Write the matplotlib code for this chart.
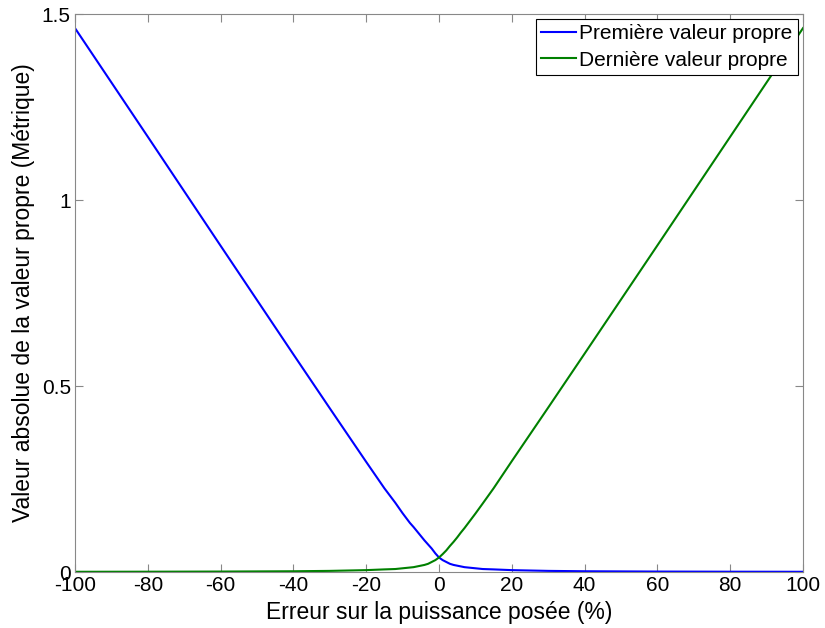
import numpy as np
import matplotlib
matplotlib.use('Agg')
import matplotlib.pyplot as plt

plt.rcParams['font.family'] = ['Liberation Sans', 'DejaVu Sans']
plt.rcParams['axes.unicode_minus'] = False

# erreur sur la puissance (%)
erreur = [-100, -80, -60, -40, -30, -20, -15, -12, -10, -8, -7, -6, -5, -4, -3, -2, -1, 0,
          1, 2, 3, 4, 5, 6, 7, 8, 10, 12, 15, 20, 30, 40, 60, 80, 100]
premiere = [1.462, 1.170, 0.877, 0.585, 0.440, 0.296, 0.225, 0.186, 0.158, 0.132, 0.121,
            0.109, 0.097, 0.085, 0.074, 0.063, 0.050, 0.039, 0.032, 0.027, 0.022, 0.019,
            0.017, 0.015, 0.013, 0.012, 0.010, 0.008, 0.007, 0.005, 0.003, 0.002, 0.0012,
            0.0008, 0.0006]
derniere = [0.0006, 0.0008, 0.0012, 0.002, 0.003, 0.005, 0.007, 0.008, 0.010, 0.012, 0.013,
            0.015, 0.017, 0.019, 0.022, 0.027, 0.032, 0.039, 0.048, 0.058, 0.070, 0.081,
            0.093, 0.106, 0.118, 0.131, 0.157, 0.184, 0.225, 0.298, 0.442, 0.587, 0.878,
            1.170, 1.462]

fig = plt.figure(figsize=(8.25, 6.28), dpi=100)
ax = fig.add_axes([75/825, 56/628, 728/825, 558/628])

ax.plot(erreur, premiere, color=(0, 0, 1), lw=1.5, label='Première valeur propre')
ax.plot(erreur, derniere, color=(0, 0.5, 0), lw=1.5, label='Dernière valeur propre')

ax.set_xlim(-100, 100)
ax.set_ylim(0, 1.5)
ax.set_xticks(np.arange(-100, 101, 20))
ax.set_yticks([0, 0.5, 1, 1.5])
ax.set_yticklabels(['0', '0.5', '1', '1.5'])
ax.tick_params(direction='in', top=True, right=True, labelsize=15, length=6,
               color='#888888', width=0.8, pad=3)
for s in ax.spines.values():
    s.set_color('#888888')

ax.set_xlabel('Erreur sur la puissance posée (%)', fontsize=16.5, labelpad=4)
ax.set_ylabel('Valeur absolue de la valeur propre (Métrique)', fontsize=16.5, labelpad=5)

leg = ax.legend(loc='upper right', fontsize=15, fancybox=False, framealpha=1,
                edgecolor='black', handlelength=1.7, borderaxespad=0.25,
                borderpad=0.25, labelspacing=0.35, handletextpad=0.15)
leg.get_frame().set_linewidth(0.8)

fig.savefig('out.png', dpi=100)
